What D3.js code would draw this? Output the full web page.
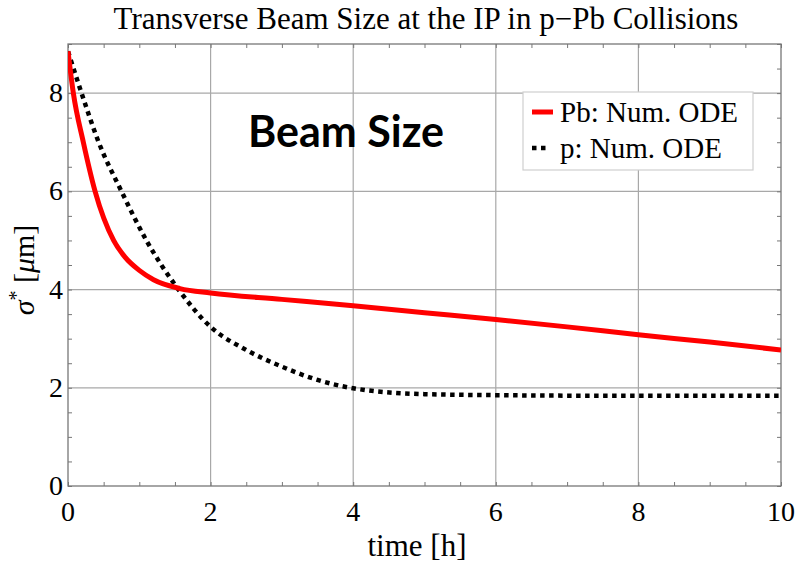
<!DOCTYPE html>
<html>
<head>
<meta charset="utf-8">
<script src="https://cdn.jsdelivr.net/npm/d3@7"></script>
<style>
body { margin: 0; background: #fff; }
svg { display: block; }
</style>
</head>
<body>
<script>
// values
var pbTime = [0, 0.075, 0.215, 0.38, 0.64, 0.8, 1.0, 1.2, 1.57, 2, 3, 4, 5, 6, 7, 8, 9, 10];
var pbSigma = [8.85, 8.0, 7.0, 6.0, 5.0, 4.66, 4.39, 4.2, 4.02, 3.93, 3.80, 3.67, 3.53, 3.39, 3.24, 3.08, 2.93, 2.77];
var pTime = [0, 0.19, 0.43, 0.75, 1.1, 1.55, 2, 2.5, 3, 3.5, 4, 5, 6, 7, 8, 10];
var pSigma = [8.85, 8.0, 7.0, 6.0, 5.0, 4.0, 3.24, 2.77, 2.43, 2.16, 1.99, 1.87, 1.85, 1.84, 1.84, 1.84];
var xTicks = [0, 2, 4, 6, 8, 10];
var yTicks = [0, 2, 4, 6, 8];
var legendLabels = ["Pb: Num. ODE", "p: Num. ODE"];

var W = 798, H = 565;
var pLeft = 68, pRight = 781, pTop = 44, pBottom = 486;

var svg = d3.select("body").append("svg")
	.attr("width", W)
	.attr("height", H);

var x = d3.scaleLinear().domain([0, 10]).range([pLeft, pRight]);
var y = d3.scaleLinear().domain([0, 9]).range([pBottom, pTop]);

var serif = "'Liberation Serif', 'Times New Roman', serif";

//grid
svg.append("g").selectAll("line")
	.data(xTicks.slice(1, -1))
	.enter().append("line")
	.attr("x1", function(d){ return x(d); })
	.attr("x2", function(d){ return x(d); })
	.attr("y1", pTop).attr("y2", pBottom)
	.attr("stroke", "#a8a8a8").attr("stroke-width", 1.2);

svg.append("g").selectAll("line")
	.data(yTicks.slice(1))
	.enter().append("line")
	.attr("y1", function(d){ return y(d); })
	.attr("y2", function(d){ return y(d); })
	.attr("x1", pLeft).attr("x2", pRight)
	.attr("stroke", "#a8a8a8").attr("stroke-width", 1.2);

//frame + inward ticks on all sides
var frameColor = "#777";
function styleTicks(g){
	g.select(".domain").remove();
	g.selectAll("line").attr("stroke", frameColor);
}
svg.append("g")
	.attr("transform", "translate(0," + pBottom + ")")
	.call(d3.axisTop(x).ticks(20).tickSize(4).tickFormat(""))
	.call(styleTicks);
svg.append("g")
	.attr("transform", "translate(0," + pTop + ")")
	.call(d3.axisBottom(x).ticks(20).tickSize(4).tickFormat(""))
	.call(styleTicks);
svg.append("g")
	.attr("transform", "translate(" + pLeft + ",0)")
	.call(d3.axisRight(y).ticks(18).tickSize(4).tickFormat(""))
	.call(styleTicks);
svg.append("g")
	.attr("transform", "translate(" + pRight + ",0)")
	.call(d3.axisLeft(y).ticks(18).tickSize(4).tickFormat(""))
	.call(styleTicks);

svg.append("rect")
	.attr("x", pLeft).attr("y", pTop)
	.attr("width", pRight - pLeft).attr("height", pBottom - pTop)
	.attr("fill", "none").attr("stroke", frameColor).attr("stroke-width", 1.3);

//tick labels
svg.append("g").selectAll("text")
	.data(xTicks)
	.enter().append("text")
	.attr("x", function(d){ return x(d); })
	.attr("y", pBottom + 35)
	.attr("text-anchor", "middle")
	.style("font-family", serif).style("font-size", "28px")
	.text(function(d){ return d; });

svg.append("g").selectAll("text")
	.data(yTicks)
	.enter().append("text")
	.attr("x", pLeft - 5)
	.attr("y", function(d){ return y(d) + 9; })
	.attr("text-anchor", "end")
	.style("font-family", serif).style("font-size", "28px")
	.text(function(d){ return d; });

//curves
var line = d3.line()
	.x(function(d){ return x(d[0]); })
	.y(function(d){ return y(d[1]); })
	.curve(d3.curveMonotoneX);

svg.append("clipPath").attr("id", "plotclip")
	.append("rect").attr("x", pLeft).attr("y", pTop)
	.attr("width", pRight - pLeft).attr("height", pBottom - pTop);

svg.append("path")
	.datum(d3.zip(pTime, pSigma))
	.attr("d", line)
	.attr("clip-path", "url(#plotclip)")
	.attr("fill", "none")
	.attr("stroke", "#000")
	.attr("stroke-width", 4.5)
	.attr("stroke-dasharray", "4.5 4.5");

svg.append("path")
	.datum(d3.zip(pbTime, pbSigma))
	.attr("d", line)
	.attr("clip-path", "url(#plotclip)")
	.attr("fill", "none")
	.attr("stroke", "#ff0000")
	.attr("stroke-width", 5);

//title
svg.append("text")
	.attr("x", 426).attr("y", 29)
	.attr("text-anchor", "middle")
	.style("font-family", serif).style("font-size", "31px")
	.text("Transverse Beam Size at the IP in p\u2212Pb Collisions");

//axis labels
svg.append("text")
	.attr("x", 417).attr("y", 556)
	.attr("text-anchor", "middle")
	.style("font-family", serif).style("font-size", "31px")
	.text("time [h]");

var yl = svg.append("text")
	.attr("transform", "translate(34,270) rotate(-90)")
	.attr("text-anchor", "middle")
	.style("font-family", serif).style("font-size", "30px");
yl.append("tspan").style("font-style", "italic").text("\u03c3");
yl.append("tspan").attr("dy", -11).style("font-size", "20px").text("*");
yl.append("tspan").attr("dy", 11).text(" [");
yl.append("tspan").style("font-style", "italic").text("\u03bc");
yl.append("tspan").text("m]");

//annotation
svg.append("text")
	.attr("x", 346).attr("y", 147)
	.attr("text-anchor", "middle")
	.style("font-family", "Lato, 'Open Sans', sans-serif")
	.style("font-weight", "bold").style("font-size", "43px")
	.text("Beam Size");

//legend
var lg = svg.append("g").attr("transform", "translate(523,92)");
lg.append("rect")
	.attr("width", 230).attr("height", 78)
	.attr("fill", "#fff").attr("stroke", "#cfcfcf").attr("stroke-width", 1.2);
lg.append("line")
	.attr("x1", 9).attr("x2", 30).attr("y1", 20).attr("y2", 20)
	.attr("stroke", "#ff0000").attr("stroke-width", 5);
lg.append("line")
	.attr("x1", 9).attr("x2", 27).attr("y1", 56).attr("y2", 56)
	.attr("stroke", "#000").attr("stroke-width", 4.5)
	.attr("stroke-dasharray", "4.5 4.5");
lg.selectAll("text.lab")
	.data(legendLabels)
	.enter().append("text")
	.attr("class", "lab")
	.attr("x", 37)
	.attr("y", function(d, i){ return 30 + i * 36; })
	.style("font-family", serif).style("font-size", "29px")
	.text(function(d){ return d; });
</script>
</body>
</html>
